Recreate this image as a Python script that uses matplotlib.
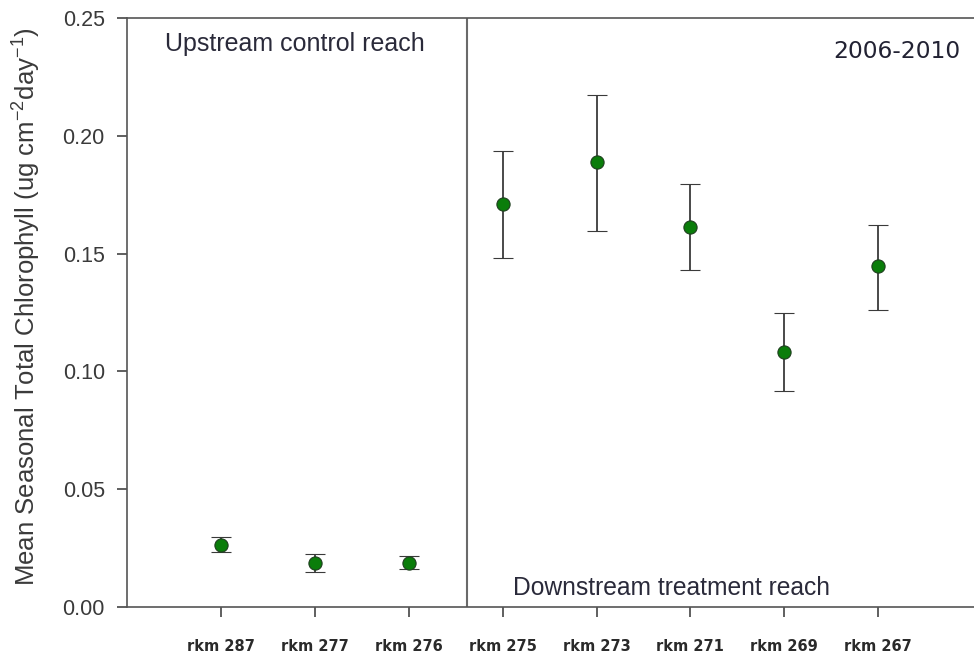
import matplotlib
matplotlib.use("Agg")
import matplotlib.pyplot as plt

sites = ["rkm 287", "rkm 277", "rkm 276", "rkm 275", "rkm 273", "rkm 271", "rkm 269", "rkm 267"]
means = [0.0265, 0.0188, 0.0188, 0.1710, 0.1888, 0.1615, 0.1083, 0.1448]
upper = [0.0295, 0.0225, 0.0218, 0.1935, 0.2172, 0.1795, 0.1247, 0.1622]
lower = [0.0233, 0.0150, 0.0162, 0.1480, 0.1598, 0.1432, 0.0915, 0.1260]
yticks = [0.00, 0.05, 0.10, 0.15, 0.20, 0.25]

plt.rcParams['font.family'] = ['Liberation Sans', 'DejaVu Sans']
fig = plt.figure(figsize=(9.74, 6.55), dpi=100)
ax = fig.add_axes([0.1304, 0.0733, 0.8696, 0.8992])

x = list(range(1, len(sites) + 1))
yerr = [[m - l for m, l in zip(means, lower)], [u - m for m, u in zip(means, upper)]]
ax.errorbar(x, means, yerr=yerr, fmt='o', color='#3a3a3a', ecolor='#3a3a3a',
            elinewidth=1.3, capsize=7, capthick=1.3, markersize=9.5,
            markerfacecolor='#0a7d0a', markeredgecolor='#1f3f1f', markeredgewidth=0.8, zorder=3)

ax.axvline(3.62, color='#6a6a6a', lw=1.5, zorder=2)

ax.set_xlim(0, 9.02)
ax.set_ylim(0, 0.25)
ax.set_xticks(x)
ax.set_xticklabels(sites, fontsize=10.5, color='#2a2a2a', family='DejaVu Sans', fontweight='bold')
ax.set_yticks(yticks)
ax.set_yticklabels([f"{v:.2f}" for v in yticks], fontsize=15.5, color='#3a3a3a')

for s in ['left', 'bottom', 'top']:
    ax.spines[s].set_color('#555555')
    ax.spines[s].set_linewidth(1.2)
ax.spines['right'].set_visible(False)

ax.tick_params(axis='x', direction='out', length=7, width=1.2, color='#444444', pad=16)
ax.tick_params(axis='y', direction='out', length=7, width=1.2, color='#444444', pad=9)

ax.set_ylabel(r"Mean Seasonal Total Chlorophyll (ug cm$^{\mathregular{-2}}$day$^{\mathregular{-1}}$)",
              fontsize=18.5, color='#3a3a3a')
ax.yaxis.set_label_coords(-0.1, 0.51)

ax.text(1.79, 0.2388, "Upstream control reach", fontsize=18, color='#2a2a3a', ha='center', va='center')
ax.text(8.87, 0.2356, "2006-2010", fontsize=16.8, color='#222233', ha='right', va='center',
        family='DejaVu Sans')
ax.text(5.80, 0.0081, "Downstream treatment reach", fontsize=17.7, color='#2a2a3a', ha='center', va='center')

fig.savefig("out.png", dpi=100)
